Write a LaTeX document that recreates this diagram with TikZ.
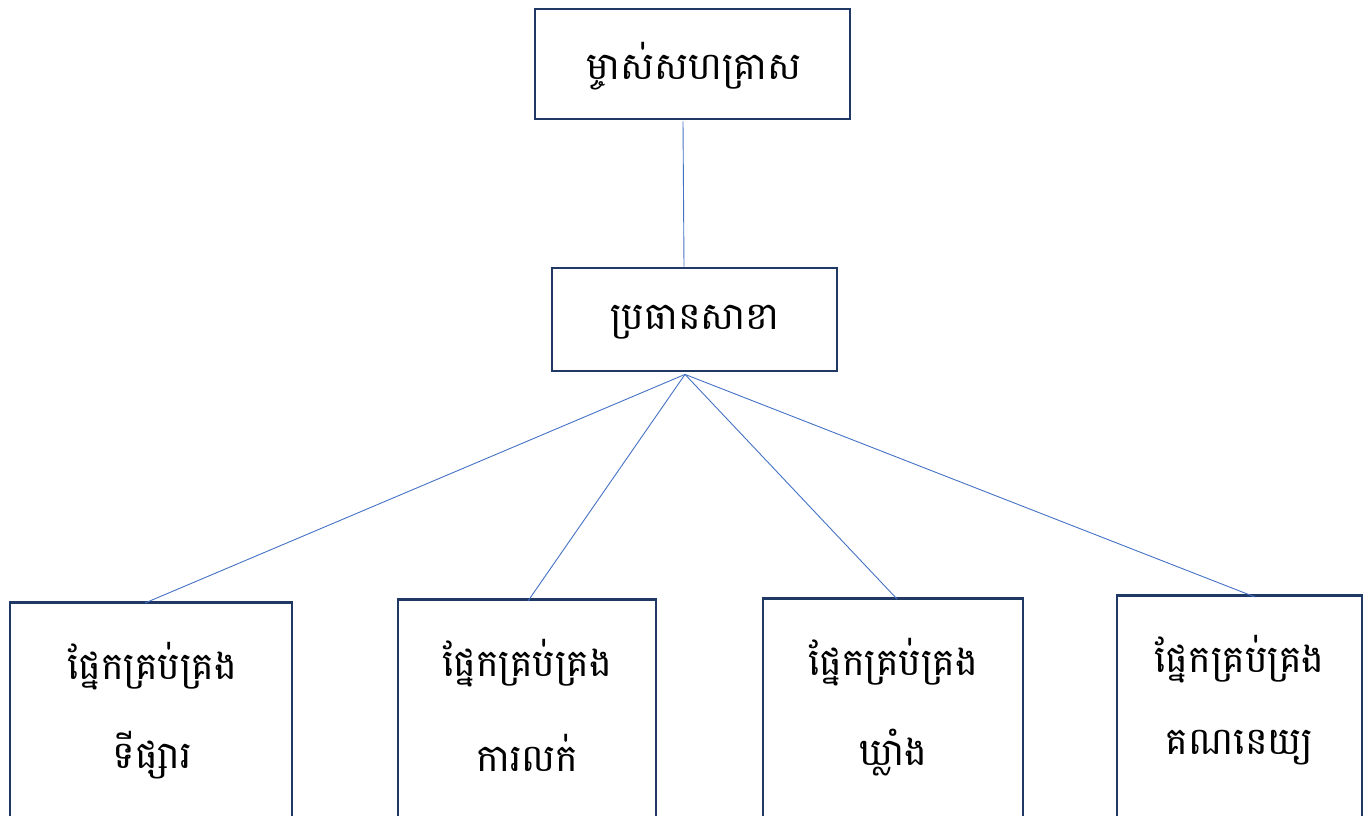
\documentclass[tikz,border=0pt]{standalone}
\usepackage{fontspec}
\newfontfamily\khmer[Script=Khmer]{Battambang}
\definecolor{boxline}{HTML}{1F3864}
\definecolor{conn}{HTML}{4472C4}
\begin{document}
\begin{tikzpicture}[x=1pt,y=-1pt,
  box/.style={draw=boxline,line width=2.8pt,fill=white,rectangle,inner sep=0pt},
  lbl/.style={font=\khmer\fontsize{38}{46}\selectfont,inner sep=0pt},
  link/.style={draw=conn,line width=0.9pt}]
\useasboundingbox (0,0) rectangle (1366,816);
\clip (0,0) rectangle (1366,816);
% top and middle
\node[box,minimum width=315pt,minimum height=110pt] (top) at (692.5,64) {};
\node[lbl] (toptxt) at (694,66) {ម្ចាស់សហគ្រាស};
\node[box,minimum width=285pt,minimum height=103pt] (mid) at (694.5,319.5) {};
\node[lbl] (midtxt) at (695,322) {ប្រធានសាខា};
% bottom boxes (extend below the page edge)
\node[box,minimum width=282pt,minimum height=240pt,anchor=north] (b1) at (151,601) {};
\node[box,minimum width=258pt,minimum height=240pt,anchor=north] (b2) at (527,598) {};
\node[box,minimum width=260pt,minimum height=240pt,anchor=north] (b3) at (893,597) {};
\node[box,minimum width=245pt,minimum height=240pt,anchor=north] (b4) at (1239.5,594) {};
\node[lbl] (b1a) at (152,666) {ផ្នែកគ្រប់គ្រង};
\node[lbl] (b1b) at (152,755) {ទីផ្សារ};
\node[lbl] (b2a) at (527,663) {ផ្នែកគ្រប់គ្រង};
\node[lbl] (b2b) at (527,753) {ការលក់};
\node[lbl] (b3a) at (893,662) {ផ្នែកគ្រប់គ្រង};
\node[lbl] (b3b) at (893,753) {ឃ្លាំង};
\node[lbl] (b4a) at (1239.5,659) {ផ្នែកគ្រប់គ្រង};
\node[lbl] (b4b) at (1239.5,748) {គណនេយ្យ};
% connectors
\draw[link] ([xshift=-9.5pt,yshift=-1pt]top.south) -- ([xshift=-10.5pt]mid.north);
\draw[link] ([xshift=-9.5pt,yshift=-2pt]mid.south) -- ([xshift=-6pt,yshift=-2pt]b1.north);
\draw[link] ([xshift=-9.5pt,yshift=-2pt]mid.south) -- ([xshift=1pt,yshift=-3pt]b2.north);
\draw[link] ([xshift=-9.5pt,yshift=-2pt]mid.south) -- ([xshift=4pt,yshift=-2pt]b3.north);
\draw[link] ([xshift=-9.5pt,yshift=-2pt]mid.south) -- ([xshift=15.5pt,yshift=-3pt]b4.north);
\end{tikzpicture}
\end{document}
